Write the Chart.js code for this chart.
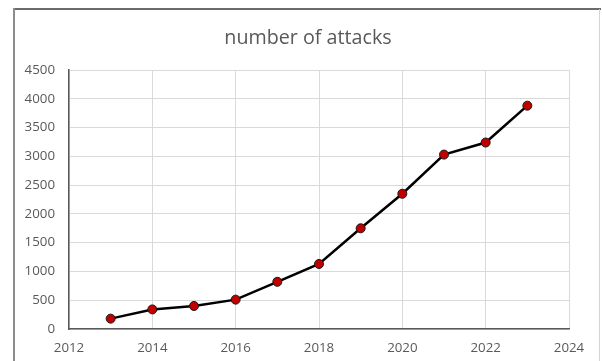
<!DOCTYPE html>
<html>
<head>
<meta charset="utf-8">
<script src="https://cdn.jsdelivr.net/npm/chart.js@4"></script>
<style>
  html, body { margin: 0; padding: 0; background: #fff; }
  #wrap { width: 602px; height: 361px; }
</style>
</head>
<body>
<div id="wrap"><canvas id="attacksChart" width="602" height="361"></canvas></div>
<script>
const years = [2013, 2014, 2015, 2016, 2017, 2018, 2019, 2020, 2021, 2022, 2023];
const attacks = [180, 340, 400, 510, 820, 1130, 1750, 2350, 3030, 3240, 3880];
const chartTitle = 'number of attacks';

const textColor = '#595959';
const tickFont = { family: 'Open Sans', size: 13.3 };

// frame around the chart and the title text
const framePlugin = {
    id: 'frame',
    beforeDraw(chart) {
        const ctx = chart.ctx;
        ctx.save();
        ctx.fillStyle = '#fff';
        ctx.fillRect(0, 0, chart.width, chart.height);
        ctx.fillStyle = '#6b6b6b';
        ctx.fillRect(13, 8, 588, 2);
        ctx.fillStyle = '#8c8c8c';
        ctx.fillRect(13, 8, 2, 353);
        ctx.fillStyle = '#d4d4d4';
        ctx.fillRect(599, 9, 1, 352);
        ctx.restore();
    },
    afterDraw(chart) {
        const ctx = chart.ctx;
        ctx.save();
        ctx.font = '19.7px "Open Sans"';
        ctx.fillStyle = textColor;
        ctx.textAlign = 'center';
        ctx.textBaseline = 'alphabetic';
        ctx.fillText(chartTitle, 308, 44);
        ctx.restore();
    }
};

const points = years.map((year, i) => ({ x: year, y: attacks[i] }));

const config = {
    type: 'line',
    data: {
        datasets: [{
            data: points,
            borderColor: '#000',
            borderWidth: 2.5,
            pointRadius: 4.5,
            pointBackgroundColor: '#c00000',
            pointBorderColor: '#1a1a1a',
            pointBorderWidth: 1,
            tension: 0
        }]
    },
    options: {
        responsive: false,
        animation: false,
        layout: { padding: { left: 0, top: 70, right: 33, bottom: 0 } },
        plugins: {
            legend: { display: false },
            title: { display: false },
            tooltip: { enabled: false }
        },
        scales: {
            x: {
                type: 'linear',
                min: 2012,
                max: 2024,
                ticks: {
                    stepSize: 2,
                    padding: 11,
                    color: textColor,
                    font: tickFont,
                    callback: v => String(v)
                },
                grid: { color: '#d9d9d9', lineWidth: 1, drawTicks: false },
                border: { color: '#595959', width: 1.5 },
                afterFit(scale) { scale.height = 32; }
            },
            y: {
                min: 0,
                max: 4500,
                ticks: {
                    stepSize: 500,
                    padding: 14,
                    color: textColor,
                    font: tickFont,
                    callback: v => String(v)
                },
                grid: { color: '#d9d9d9', lineWidth: 1, drawTicks: false },
                border: { color: '#595959', width: 1.5 },
                afterFit(scale) { scale.width = 69; }
            }
        }
    },
    plugins: [framePlugin]
};

new Chart(document.getElementById('attacksChart'), config);
</script>
</body>
</html>
